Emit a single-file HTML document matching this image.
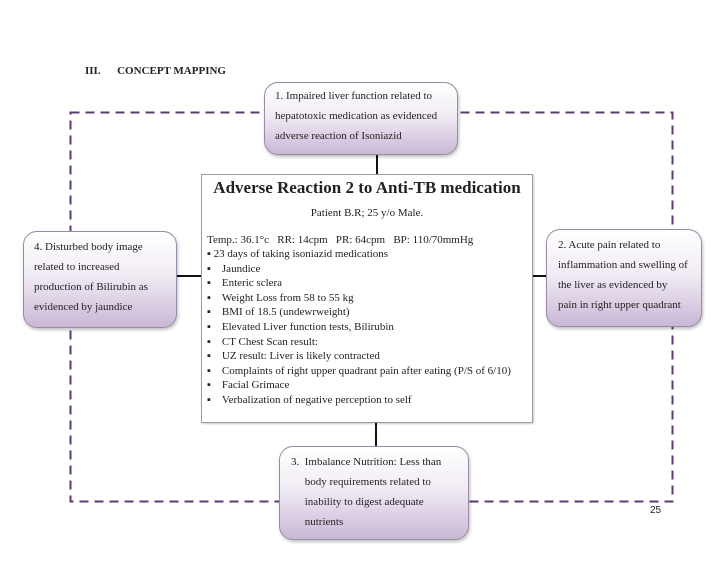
<!DOCTYPE html>
<html><head><style>
body{margin:0;width:728px;height:563px;background:#fff;position:relative;overflow:hidden;font-family:"Liberation Serif",serif;color:#222;}
.a{position:absolute}
.bx{position:absolute;border:1px solid #9a8aa6;border-radius:14px;background:linear-gradient(#ffffff 0%,#f1ecf4 45%,#c9b8d6 100%);box-shadow:1px 2px 3px rgba(0,0,0,.25);font-size:11px;line-height:20px;box-sizing:border-box;padding:4px 8px;}
.ln{position:absolute;background:#111}
.c{font-size:11px;line-height:14.6px;position:absolute;left:207px;white-space:nowrap}
</style></head><body>
<svg class="a" style="left:0;top:0" width="728" height="563">
<rect x="70.5" y="112.5" width="602" height="389" fill="none" stroke="#5b3b72" stroke-width="2" stroke-dasharray="9,6"/>
</svg>
<div class="a" style="left:85px;top:65px;font-size:11px;font-weight:bold">III.&nbsp;&nbsp;&nbsp;&nbsp;&nbsp;&nbsp;CONCEPT MAPPING</div>
<div class="ln" style="left:376px;top:155px;width:2px;height:20px"></div>
<div class="ln" style="left:375px;top:423px;width:2px;height:24px"></div>
<div class="ln" style="left:177px;top:275px;width:25px;height:2px"></div>
<div class="ln" style="left:533px;top:275px;width:13px;height:2px"></div>
<div class="bx" style="left:264px;top:82px;width:194px;height:73px;padding-left:10px;padding-top:3px">1. Impaired liver function related to<br>hepatotoxic medication as evidenced<br>adverse reaction of Isoniazid</div>
<div class="bx" style="left:23px;top:231px;width:154px;height:97px;padding-top:5px;padding-left:10px">4. Disturbed body image<br>related to increased<br>production of Bilirubin as<br>evidenced by jaundice</div>
<div class="bx" style="left:546px;top:229px;width:156px;height:98px;padding-top:5px;padding-left:11px">2. Acute pain related to<br>inflammation and swelling of<br>the liver as evidenced by<br>pain in right upper quadrant</div>
<div class="bx" style="left:279px;top:446px;width:190px;height:94px;padding-top:5px;padding-left:11px">3.&nbsp; Imbalance Nutrition: Less than<br>&nbsp;&nbsp;&nbsp;&nbsp;&nbsp;body requirements related to<br>&nbsp;&nbsp;&nbsp;&nbsp;&nbsp;inability to digest adequate<br>&nbsp;&nbsp;&nbsp;&nbsp;&nbsp;nutrients</div>
<div class="a" style="left:201px;top:174px;width:332px;height:249px;border:1px solid #9a9aa6;box-sizing:border-box;background:#fff;box-shadow:1px 1px 2px rgba(0,0,0,.2)"></div>
<div class="a" style="left:201px;top:178px;width:332px;text-align:center;font-size:17px;font-weight:bold">Adverse Reaction 2 to Anti-TB medication</div>
<div class="a" style="left:201px;top:207px;width:332px;text-align:center;font-size:11px">Patient B.R; 25 y/o Male.</div>
<div class="c" style="top:233px">Temp.: 36.1°c &nbsp;&nbsp;RR: 14cpm &nbsp;&nbsp;PR: 64cpm &nbsp;&nbsp;BP: 110/70mmHg</div>
<div class="c" style="top:247px">▪ 23 days of taking isoniazid medications<br>▪&nbsp;&nbsp;&nbsp;&nbsp;Jaundice<br>▪&nbsp;&nbsp;&nbsp;&nbsp;Enteric sclera<br>▪&nbsp;&nbsp;&nbsp;&nbsp;Weight Loss from 58 to 55 kg<br>▪&nbsp;&nbsp;&nbsp;&nbsp;BMI of 18.5 (undewrweight)<br>▪&nbsp;&nbsp;&nbsp;&nbsp;Elevated Liver function tests, Bilirubin<br>▪&nbsp;&nbsp;&nbsp;&nbsp;CT Chest Scan result:<br>▪&nbsp;&nbsp;&nbsp;&nbsp;UZ result: Liver is likely contracted<br>▪&nbsp;&nbsp;&nbsp;&nbsp;Complaints of right upper quadrant pain after eating (P/S of 6/10)<br>▪&nbsp;&nbsp;&nbsp;&nbsp;Facial Grimace<br>▪&nbsp;&nbsp;&nbsp;&nbsp;Verbalization of negative perception to self</div>
<div class="a" style="left:650px;top:505px;font-family:'Liberation Sans',sans-serif;font-size:10px">25</div>
</body></html>
